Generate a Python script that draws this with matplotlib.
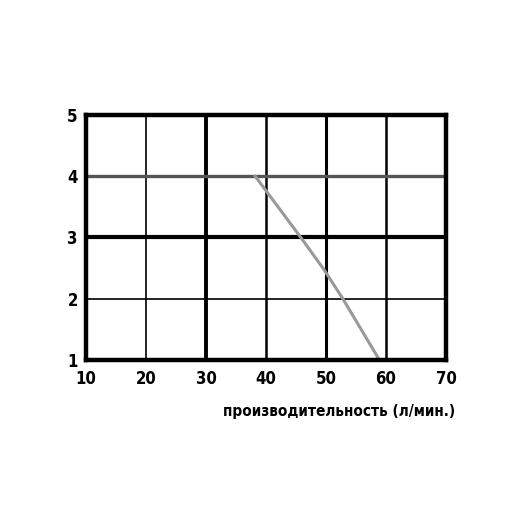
import matplotlib
matplotlib.use('Agg')
import matplotlib.pyplot as plt
from matplotlib import font_manager

# кривая производительности
flow = [38.2, 45.8, 49.7, 52.8, 58.9]
head = [4.0, 3.0, 2.47, 2.0, 1.0]

x_ticks = [10, 20, 30, 40, 50, 60, 70]
y_ticks = [1, 2, 3, 4, 5]
xlabel = 'производительность (л/мин.)'

fp = font_manager.FontProperties(family='DejaVu Sans', stretch='condensed', weight='bold', size=12)
fp_label = font_manager.FontProperties(family='DejaVu Sans', stretch='condensed', weight='bold', size=11)

fig = plt.figure(figsize=(5.26, 5.26), dpi=100)
ax = fig.add_axes([0.1635, 0.3156, 0.6845, 0.4658])

# сетка с разной толщиной линий
vwidth = {20: 1.2, 30: 2.8, 40: 1.8, 50: 2.2, 60: 1.8}
for v in x_ticks[1:-1]:
    ax.axvline(v, color='black', linewidth=vwidth[v], zorder=1)
ax.axhline(2, color='black', linewidth=1.2, zorder=1)
ax.axhline(3, color='black', linewidth=3.0, zorder=1)
ax.axhline(4, color='#555555', linewidth=2.4, zorder=1)

ax.plot(flow, head, color='#999999', linewidth=2.2, zorder=2)

ax.set_xlim(10, 70)
ax.set_ylim(1, 5)
ax.set_xticks(x_ticks)
ax.set_yticks(y_ticks)
ax.tick_params(length=0, pad=7)
ax.tick_params(axis='y', pad=6)
for lbl in ax.get_xticklabels() + ax.get_yticklabels():
    lbl.set_fontproperties(fp)
for s in ax.spines.values():
    s.set_linewidth(3.2)
    s.set_zorder(3)

fig.text(0.866, 0.218, xlabel, ha='right', va='center', fontproperties=fp_label)

fig.savefig('out.png', dpi=100)
